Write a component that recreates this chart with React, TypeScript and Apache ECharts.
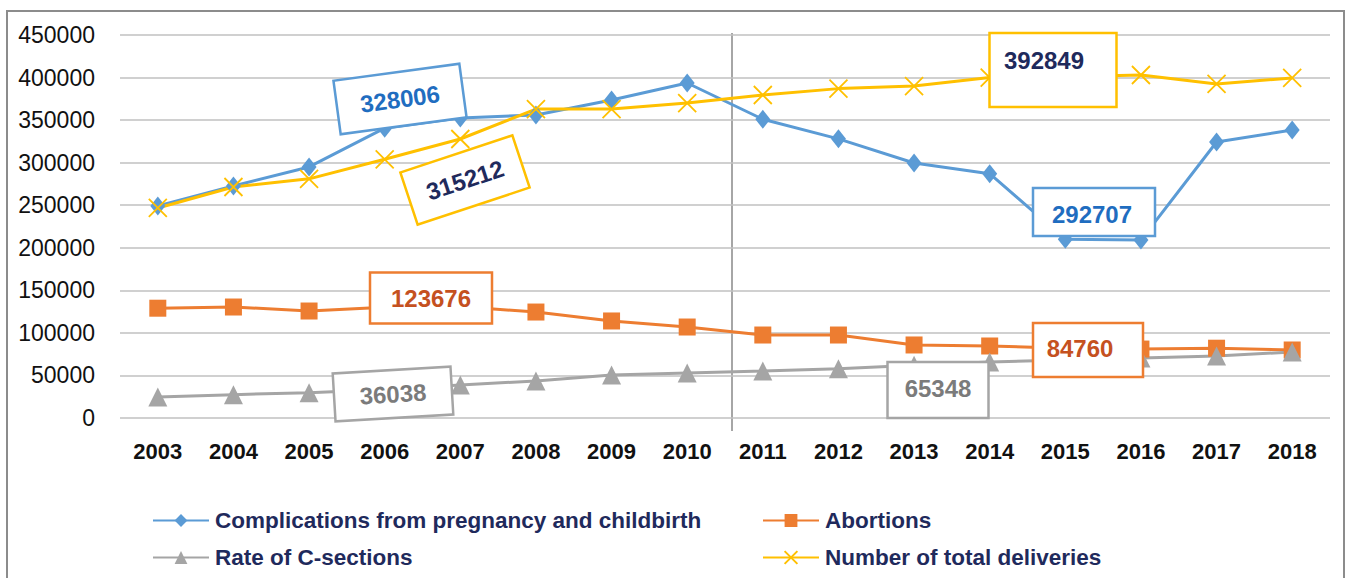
import React, { useEffect, useRef } from "react";
import * as echarts from "echarts";

const years = ["2003","2004","2005","2006","2007","2008","2009","2010","2011","2012","2013","2014","2015","2016","2017","2018"];
const complications = [249000,272600,295000,340500,352500,356000,373600,393600,351000,328000,299600,287000,210000,209000,324300,338400];
const abortions = [129000,130400,125700,130000,131000,124500,114000,106900,97500,97500,85800,84600,82000,81000,82000,79900];
const cSections = [24700,27400,29800,33500,38800,43500,50500,52900,55200,58000,62000,65800,68000,70500,72800,77600];
const deliveries = [246750,271400,281000,304000,327800,363000,363000,370000,379500,387000,390000,400000,401000,403000,392500,399500];
const seriesNames = ["Complications from pregnancy and childbirth","Abortions","Rate of C-sections","Number of total deliveries"];
const yTicks = { min: 0, max: 450000, interval: 50000 };

const callouts = [
  { text: "328006", cx: 400, cy: 99, w: 127, h: 54, rot: 7.7, border: "#5b9bd5", color: "#1f6dc0", tx: 0, ty: 0 },
  { text: "315212", cx: 465, cy: 180, w: 118, h: 55, rot: 18.3, border: "#ffc000", color: "#1f2a5c", tx: 0, ty: 0 },
  { text: "123676", cx: 431, cy: 298, w: 122, h: 51, rot: 0, border: "#ed7d31", color: "#c5511f", tx: 0, ty: 0 },
  { text: "36038", cx: 393, cy: 394, w: 118, h: 48, rot: 3.4, border: "#a5a5a5", color: "#7b7b7b", tx: 0, ty: 0 },
  { text: "392849", cx: 1053, cy: 70, w: 127, h: 74, rot: 0, border: "#ffc000", color: "#1f2a5c", tx: -9, ty: -10 },
  { text: "292707", cx: 1094, cy: 212, w: 122, h: 48, rot: 0, border: "#5b9bd5", color: "#1f6dc0", tx: -2, ty: 2 },
  { text: "84760", cx: 1088, cy: 350, w: 110, h: 54, rot: 0, border: "#ed7d31", color: "#c5511f", tx: -8, ty: -2 },
  { text: "65348", cx: 938, cy: 390, w: 101, h: 56, rot: 0, border: "#a5a5a5", color: "#7b7b7b", tx: 0, ty: -2 },
];

const FONT = "'Liberation Sans', Arial, sans-serif";
const NAVY = "#1f2a5c";

export default function App() {
  const ref = useRef<HTMLDivElement>(null);
  useEffect(() => {
    if (!ref.current) return;
    const chart = echarts.init(ref.current, undefined, { renderer: "svg" });
    const legendPos = [
      { left: 152, top: 509 },
      { left: 762, top: 509 },
      { left: 152, top: 546 },
      { left: 762, top: 546 },
    ];
    const legends = seriesNames.map((n, i) => ({
      data: [n],
      left: legendPos[i].left,
      top: legendPos[i].top,
      orient: "horizontal",
      itemWidth: 56,
      itemHeight: 16,
      itemGap: 6,
      padding: 0,
      selectedMode: false,
      textStyle: { fontFamily: FONT, fontSize: 22.5, fontWeight: "bold", color: NAVY, padding: [0, 0, 0, 1] },
    }));
    const graphics: any[] = [
      { type: "rect", z: 0, shape: { x: 7, y: 11, width: 1337, height: 620 }, style: { fill: "none", stroke: "#8c8c8c", lineWidth: 2 } },
      { type: "line", z: 0, shape: { x1: 732, y1: 33, x2: 732, y2: 431 }, style: { stroke: "#a6a6a6", lineWidth: 2 } },
    ];
    callouts.forEach((c) => {
      graphics.push({
        type: "group",
        x: c.cx,
        y: c.cy,
        rotation: (c.rot * Math.PI) / 180,
        z: 100,
        children: [
          { type: "rect", z: 100, shape: { x: -c.w / 2, y: -c.h / 2, width: c.w, height: c.h }, style: { fill: "#ffffff", stroke: c.border, lineWidth: 2.5 } },
          { type: "text", z: 101, x: c.tx, y: c.ty, style: { text: c.text, fill: c.color, font: `bold 24px ${FONT}`, align: "center", verticalAlign: "middle" } },
        ],
      });
    });
    const mk = (name: string, data: number[], color: string, symbol: string, size: any, extra: any = {}) => ({
      name,
      type: "line",
      data,
      symbol,
      symbolSize: size,
      lineStyle: { color, width: 3 },
      itemStyle: { color, ...extra },
      emphasis: { disabled: true },
    });
    chart.setOption({
      animation: false,
      textStyle: { fontFamily: FONT },
      grid: { left: 120, right: 16, top: 35, bottom: 160 },
      legend: legends,
      xAxis: {
        type: "category",
        data: years,
        boundaryGap: true,
        axisLine: { show: false },
        axisTick: { show: false },
        axisLabel: { fontFamily: FONT, fontSize: 22, fontWeight: "bold", color: "#111111", margin: 22 },
      },
      yAxis: {
        type: "value",
        min: yTicks.min,
        max: yTicks.max,
        interval: yTicks.interval,
        axisLine: { show: false },
        axisTick: { show: false },
        axisLabel: { fontFamily: FONT, fontSize: 23, color: "#111111", margin: 25, formatter: (v: number) => String(v) },
        splitLine: { lineStyle: { color: "#c0c0c0", width: 1.5 } },
      },
      series: [
        mk(seriesNames[0], complications, "#5b9bd5", "diamond", [15, 19]),
        mk(seriesNames[1], abortions, "#ed7d31", "rect", 17),
        mk(seriesNames[2], cSections, "#a5a5a5", "triangle", 19),
        mk(seriesNames[3], deliveries, "#ffc000", "path://M0,0L20,20M20,0L0,20", 18, { borderColor: "#ffc000", borderWidth: 1.8 }),
      ],
      graphic: graphics,
    });
    return () => chart.dispose();
  }, []);
  return <div ref={ref} style={{ position: "absolute", left: 0, top: 0, width: 1346, height: 578, background: "#ffffff" }} />;
}
